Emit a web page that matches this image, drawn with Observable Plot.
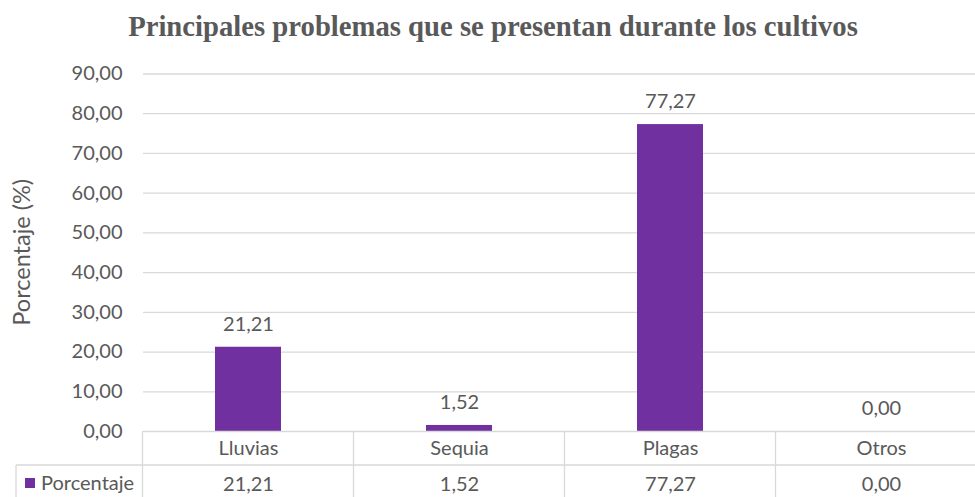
<!DOCTYPE html>
<html>
<head>
<meta charset="utf-8">
<script src="https://cdn.jsdelivr.net/npm/d3@7"></script>
<script src="https://cdn.jsdelivr.net/npm/@observablehq/plot@0.6"></script>
<style>
  html, body { margin: 0; padding: 0; background: #fff; }
  #chart svg { display: block; }
</style>
</head>
<body>
<div id="chart"></div>
<script>
const categories = ["Lluvias", "Sequia", "Plagas", "Otros"];
const values = [21.21, 1.52, 77.27, 0.00];
const yTicks = [0, 10, 20, 30, 40, 50, 60, 70, 80, 90];
const seriesName = "Porcentaje";
const titleText = "Principales problemas que se presentan durante los cultivos";
const yLabel = "Porcentaje (%)";

const data = categories.map((c, i) => ({category: c, value: values[i]}));
const fmt = v => d3.format(".2f")(v).replace(".", ",");

const FONT = "Lato, 'Open Sans', sans-serif";
const TXT = "#595959";
const GRID = "#d9d9d9";
const BAR = "#7030A0";

const plot = Plot.plot({
  width: 975,
  height: 497,
  marginLeft: 143,
  marginRight: 0,
  marginTop: 73,
  marginBottom: 66,
  style: {fontFamily: FONT, fontSize: "20px", color: TXT, background: "#fff"},
  x: {domain: categories, range: [143, 987], paddingInner: 0.687, paddingOuter: 0.3435, axis: null},
  y: {domain: [0, 90], range: [431, 73.5], ticks: yTicks, label: null},
  marks: [
    Plot.gridY(yTicks.filter(t => t > 0), {stroke: GRID, strokeOpacity: 1, strokeWidth: 1.3}),
    Plot.axisY(yTicks, {tickSize: 0, tickPadding: 21, tickFormat: fmt, fill: TXT, fontSize: 20, label: null}),
    Plot.barY(data, {x: "category", y: "value", fill: BAR}),
    Plot.text(data, {x: "category", y: "value", text: d => fmt(d.value), dy: -23, fill: TXT, fontSize: 20}),
    Plot.ruleY([0], {stroke: GRID, strokeWidth: 1.3}),
    Plot.text(data, {x: "category", y: 0, text: "category", dy: 17, fill: TXT, fontSize: 20, clip: false}),
    Plot.text(data, {x: "category", y: 0, text: d => fmt(d.value), dy: 53, fill: TXT, fontSize: 20, clip: false})
  ]
});

const svg = d3.select(plot);
svg.style("overflow", "hidden");
const xs = plot.scale("x");
const ys = plot.scale("y");
const y0 = ys.apply(0);
const step = xs.step;
const firstStart = xs.apply(categories[0]) - (step - xs.bandwidth) / 2;
const rowLine = y0 + 34;
const g = svg.append("g").attr("stroke", GRID).attr("stroke-width", 1.3);
// vertical table lines at band boundaries
for (let i = 0; i <= categories.length; i++) {
  const bx = firstStart + i * step;
  g.append("line").attr("x1", bx).attr("x2", bx).attr("y1", y0).attr("y2", 497);
}
// second row line
g.append("line").attr("x1", 16).attr("x2", 987).attr("y1", rowLine).attr("y2", rowLine);
// legend cell left border
g.append("line").attr("x1", 16).attr("x2", 16).attr("y1", rowLine).attr("y2", 497);
// legend key
svg.append("rect").attr("x", 25).attr("y", rowLine + 13).attr("width", 10).attr("height", 10).attr("fill", BAR);
svg.append("text").attr("x", 41).attr("y", y0 + 53).attr("dy", "0.32em").attr("text-anchor", "start")
  .attr("fill", TXT).style("font-family", FONT).style("font-size", "20px").text(seriesName);
// y label
svg.append("text").attr("transform", `translate(22, ${(ys.apply(0) + ys.apply(90)) / 2}) rotate(-90)`)
  .attr("text-anchor", "middle").attr("dy", "0.32em")
  .attr("fill", TXT).style("font-family", FONT).style("font-size", "23.5px").text(yLabel);
// title
svg.append("text").attr("x", 493).attr("y", 36).attr("text-anchor", "middle")
  .attr("fill", TXT).style("font-family", "'Liberation Serif', 'Times New Roman', serif")
  .style("font-weight", "bold").style("font-size", "28.7px").text(titleText);

document.getElementById("chart").appendChild(plot);
</script>
</body>
</html>
